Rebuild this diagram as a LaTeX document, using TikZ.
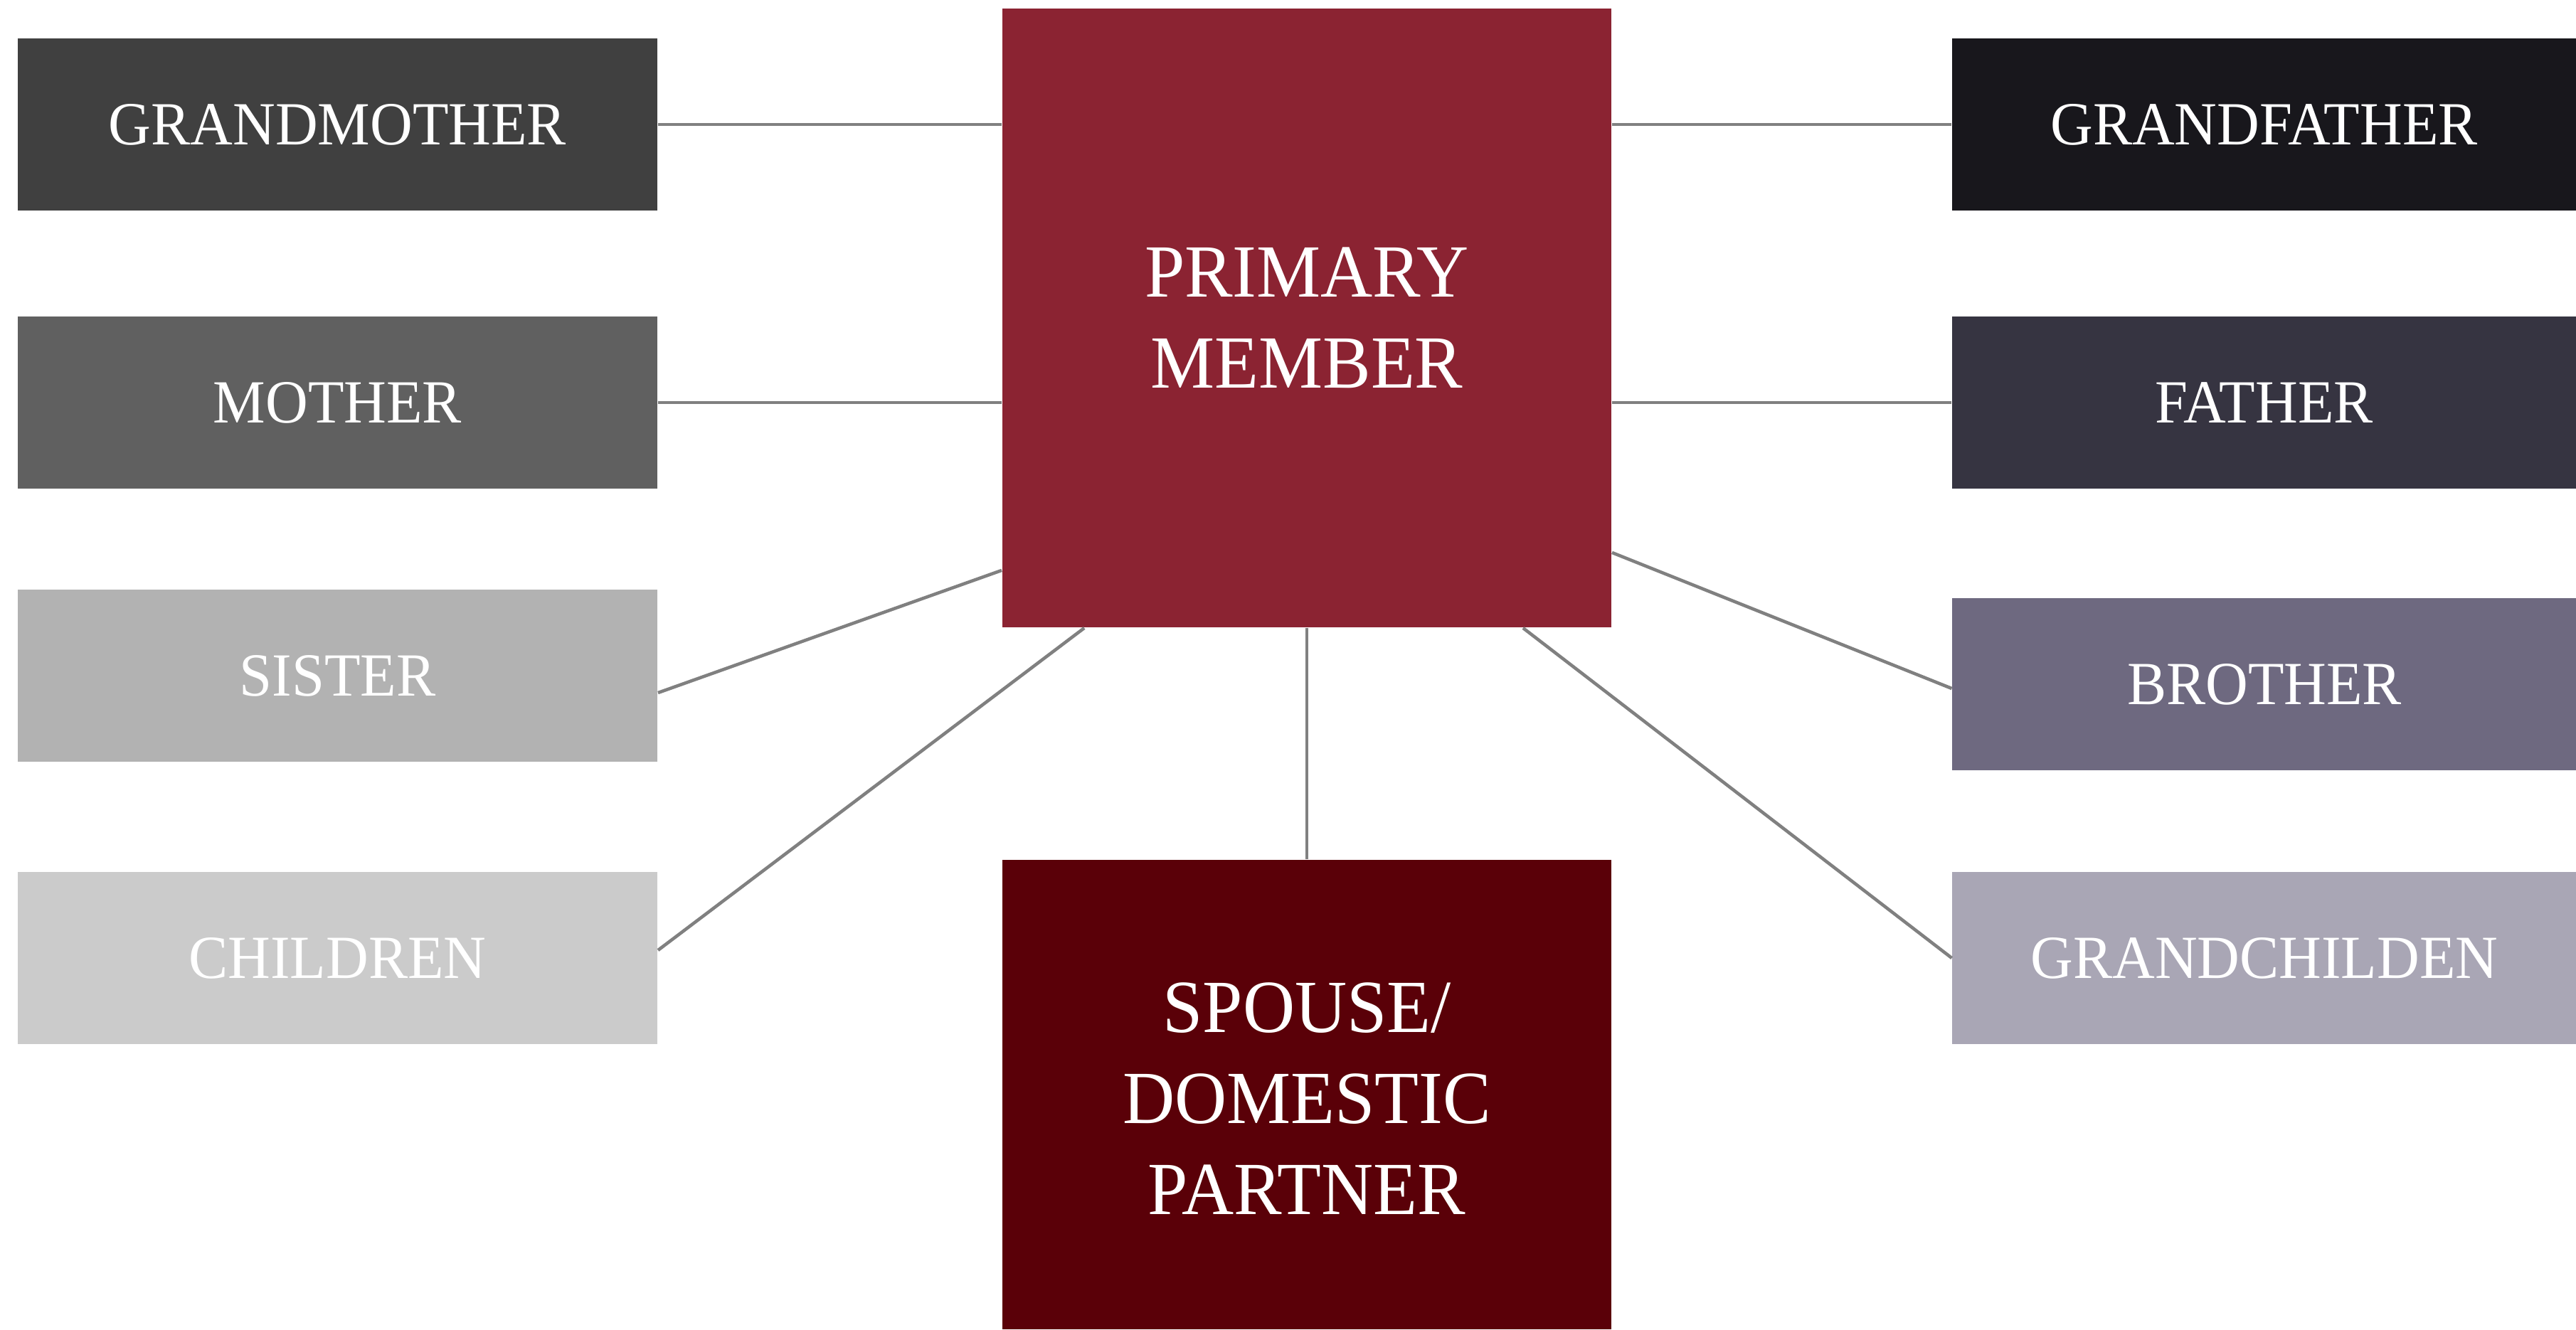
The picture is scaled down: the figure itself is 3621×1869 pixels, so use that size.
\documentclass[tikz,border=0pt]{standalone}
\usepackage{fontspec}
\setmainfont{Liberation Serif}[FakeStretch=0.96]
\definecolor{cgm}{HTML}{404040}
\definecolor{cm}{HTML}{606060}
\definecolor{cs}{HTML}{B2B2B2}
\definecolor{cc}{HTML}{CBCBCB}
\definecolor{cgf}{HTML}{18171C}
\definecolor{cf}{HTML}{363441}
\definecolor{cb}{HTML}{6E6980}
\definecolor{cgc}{HTML}{A9A6B5}
\definecolor{cp}{HTML}{8B2332}
\definecolor{csp}{HTML}{5A0008}
\definecolor{linegray}{HTML}{808080}
\begin{document}
\begin{tikzpicture}[x=0.01cm,y=-0.01cm,
  box/.style={rectangle, inner sep=0pt, text=white, align=center, font=\fontsize{24.5}{29}\selectfont},
  side/.style={box, minimum height=2.42cm},
  lbox/.style={side, minimum width=8.99cm},
  rbox/.style={side, minimum width=8.77cm},
  cbox/.style={box, minimum width=8.56cm, font=\fontsize{30}{36.4}\selectfont},
  link/.style={draw=linegray, line width=1.3pt}]
\useasboundingbox (0,0) rectangle (3621,1869);
% center boxes
\node[cbox, fill=cp, minimum height=8.70cm] (p) at (1837,447) {PRIMARY\\MEMBER};
\node[cbox, fill=csp, minimum height=6.60cm] (sp) at (1837,1539) {};
\node[cbox, text=white] (spt) at (1837,1545) {SPOUSE/\\DOMESTIC\\PARTNER};
% left boxes
\node[lbox, fill=cgm] (gm) at (474.5,175) {GRANDMOTHER};
\node[lbox, fill=cm]  (m)  at (474.5,566) {MOTHER};
\node[lbox, fill=cs]  (s)  at (474.5,950) {SISTER};
\node[lbox, fill=cc]  (c)  at (474.5,1347) {CHILDREN};
% right boxes
\node[rbox, fill=cgf] (gf) at (3182.5,175) {GRANDFATHER};
\node[rbox, fill=cf]  (f)  at (3182.5,566) {FATHER};
\node[rbox, fill=cb]  (b)  at (3183,962) {BROTHER};
\node[rbox, fill=cgc] (gc) at (3183,1347) {GRANDCHILDEN};
% connectors
\draw[link] (gm.east) -- (gm.east -| p.west);
\draw[link] (m.east) -- (m.east -| p.west);
\draw[link] ([yshift=-0.24cm]s.east) -- ([yshift=0.81cm]p.south west);
\draw[link] ([yshift=0.11cm]c.east) -- ([xshift=1.16cm]p.south west);
\draw[link] (gf.west) -- (gf.west -| p.east);
\draw[link] (f.west) -- (f.west -| p.east);
\draw[link] ([yshift=-0.06cm]b.west) -- ([yshift=1.06cm]p.south east);
\draw[link] (gc.west) -- ([xshift=-1.25cm]p.south east);
\draw[link] (p.south) -- (sp.north);
\end{tikzpicture}
\end{document}
